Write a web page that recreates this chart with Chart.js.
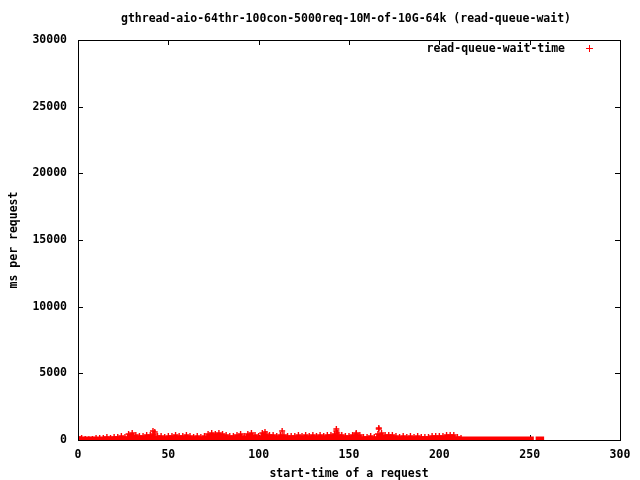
<!DOCTYPE html>
<html>
<head>
  <title>read-queue-wait</title>
  <style>
    body { margin: 0; padding: 0; background-color: white; }
    canvas { display: block; }
  </style>
</head>
<body>
  <canvas id="chart" width="640" height="480"></canvas>

  <script src="https://cdn.jsdelivr.net/npm/chart.js@4/dist/chart.umd.min.js"></script>
  <script>
    const chartTitle = "gthread-aio-64thr-100con-5000req-10M-of-10G-64k (read-queue-wait)";
    const seriesName = "read-queue-wait-time";

    // upper edge of the dense band, one value every 2 s (ms)
    const bandTime = [
      0, 2, 4, 6, 8, 10, 12, 14, 16, 18,
      20, 22, 24, 26, 28, 30, 32, 34, 36, 38,
      40, 42, 44, 46, 48, 50, 52, 54, 56, 58,
      60, 62, 64, 66, 68, 70, 72, 74, 76, 78,
      80, 82, 84, 86, 88, 90, 92, 94, 96, 98,
      100, 102, 104, 106, 108, 110, 112, 114, 116, 118,
      120, 122, 124, 126, 128, 130, 132, 134, 136, 138,
      140, 142, 144, 146, 148, 150, 152, 154, 156, 158,
      160, 162, 164, 166, 168, 170, 172, 174, 176, 178,
      180, 182, 184, 186, 188, 190, 192, 194, 196, 198,
      200, 202, 204, 206, 208, 210, 212
    ];
    const bandMs = [
      225, 150, 75, 50, 75, 150, 150, 150, 225, 150,
      225, 225, 300, 225, 450, 525, 375, 300, 300, 375,
      375, 450, 300, 300, 225, 300, 300, 375, 300, 300,
      375, 300, 225, 300, 225, 300, 450, 525, 450, 525,
      450, 375, 300, 300, 375, 450, 300, 450, 525, 375,
      300, 525, 450, 375, 375, 300, 375, 375, 300, 300,
      300, 375, 300, 375, 300, 375, 300, 375, 300, 375,
      375, 450, 375, 375, 300, 300, 375, 450, 375, 225,
      225, 300, 225, 450, 525, 375, 375, 375, 300, 225,
      300, 225, 300, 225, 300, 225, 225, 225, 300, 300,
      300, 300, 375, 375, 375, 225, 150
    ];

    // isolated slow requests sticking out of the band
    const peakTime = [41.5, 42.5, 103.5, 113, 143, 143, 143.5, 154, 166.5, 166.5];
    const peakMs = [675, 600, 600, 675, 825, 675, 525, 525, 900, 825];

    // runs of requests that waited ~0 ms (start, end in s)
    const zeroRuns = [[0, 33.5], [34.5, 67.5], [68.5, 162.5], [163.5, 207.5], [208.5, 252.3], [253.3, 258]];

    const xTicks = [0, 50, 100, 150, 200, 250, 300];
    const yTicks = [0, 5000, 10000, 15000, 20000, 25000, 30000];

    const red = "#ff0000";
    const monoFont = { family: "'DejaVu Sans Mono', 'Liberation Mono', monospace", size: 11.5, weight: "bold" };

    const bandPoints = bandTime.map((t, i) => ({ x: t, y: bandMs[i] }));
    const peakPoints = peakTime.map((t, i) => ({ x: t, y: peakMs[i] }));
    const zeroPoints = [];
    zeroRuns.forEach((r, i) => {
      if (i > 0) zeroPoints.push({ x: r[0] - 0.5, y: null });
      zeroPoints.push({ x: r[0], y: 0 });
      zeroPoints.push({ x: r[1], y: 0 });
    });

    const gnuplotFrame = {
      id: "gnuplotFrame",
      beforeDatasetsDraw(chart) {
        const { ctx, chartArea: a, scales } = chart;
        ctx.save();
        ctx.strokeStyle = "#000";
        ctx.lineWidth = 1;
        ctx.beginPath();
        xTicks.forEach(v => {
          const px = Math.round(scales.x.getPixelForValue(v)) + 0.5;
          ctx.moveTo(px, a.bottom); ctx.lineTo(px, a.bottom - 5);
          ctx.moveTo(px, a.top); ctx.lineTo(px, a.top + 5);
        });
        yTicks.forEach(v => {
          const py = Math.round(scales.y.getPixelForValue(v)) + 0.5;
          ctx.moveTo(a.left, py); ctx.lineTo(a.left + 5, py);
          ctx.moveTo(a.right, py); ctx.lineTo(a.right - 5, py);
        });
        ctx.stroke();
        ctx.restore();
      },
      afterDatasetsDraw(chart) {
        const { ctx, chartArea: a } = chart;
        ctx.save();
        ctx.strokeStyle = "#000";
        ctx.lineWidth = 1;
        ctx.strokeRect(Math.round(a.left) + 0.5, Math.round(a.top) + 0.5,
          Math.round(a.right - a.left), Math.round(a.bottom - a.top));
        ctx.restore();
      },
      afterDraw(chart) {
        const { ctx } = chart;
        ctx.save();
        ctx.fillStyle = "#000";
        ctx.font = "bold 11.5px 'DejaVu Sans Mono', 'Liberation Mono', monospace";
        ctx.textBaseline = "middle";
        ctx.textAlign = "center";
        ctx.fillText(chartTitle, 346, 19);
        ctx.textAlign = "right";
        ctx.fillText(seriesName, 565, 49);
        ctx.strokeStyle = red;
        ctx.lineWidth = 1;
        ctx.beginPath();
        ctx.moveTo(586, 48.5); ctx.lineTo(593, 48.5);
        ctx.moveTo(589.5, 45); ctx.lineTo(589.5, 52);
        ctx.stroke();
        ctx.restore();
      }
    };

    Chart.defaults.color = "#000";

    new Chart(document.getElementById("chart").getContext("2d"), {
      type: "scatter",
      data: {
        datasets: [
          {
            label: seriesName,
            data: bandPoints.concat(peakPoints),
            pointStyle: "cross",
            pointRadius: 3,
            borderColor: red,
            backgroundColor: red,
            borderWidth: 1.4,
            showLine: false
          },
          {
            label: "zero",
            type: "line",
            data: zeroPoints,
            borderColor: red,
            borderWidth: 7,
            pointRadius: 0,
            spanGaps: false,
            fill: false
          },
          {
            label: "band",
            type: "line",
            data: bandPoints,
            stepped: "middle",
            borderWidth: 0,
            borderColor: red,
            backgroundColor: red,
            pointRadius: 0,
            fill: "origin"
          }
        ]
      },
      options: {
        responsive: false,
        animation: false,
        layout: { padding: { top: 40, right: 20, left: 0, bottom: 0 } },
        plugins: {
          legend: { display: false },
          tooltip: { enabled: false }
        },
        scales: {
          x: {
            type: "linear",
            min: 0,
            max: 300,
            grid: { display: false, drawTicks: false },
            border: { display: false },
            ticks: {
              stepSize: 50,
              padding: 8,
              font: monoFont,
              maxRotation: 0,
              callback: v => String(v)
            },
            title: {
              display: true,
              text: "start-time of a request",
              font: Object.assign({}, monoFont, { lineHeight: 1 }),
              padding: { top: 0, bottom: 0 }
            },
            afterFit: s => { s.height = 40; }
          },
          y: {
            type: "linear",
            min: 0,
            max: 30000,
            grid: { display: false, drawTicks: false },
            border: { display: false },
            ticks: {
              stepSize: 5000,
              padding: 11,
              font: monoFont,
              callback: v => String(v)
            },
            title: {
              display: true,
              text: "ms per request",
              font: monoFont,
              padding: { top: 7, bottom: 0 }
            },
            afterFit: s => { s.width = 78; }
          }
        }
      },
      plugins: [gnuplotFrame]
    });
  </script>
</body>
</html>
